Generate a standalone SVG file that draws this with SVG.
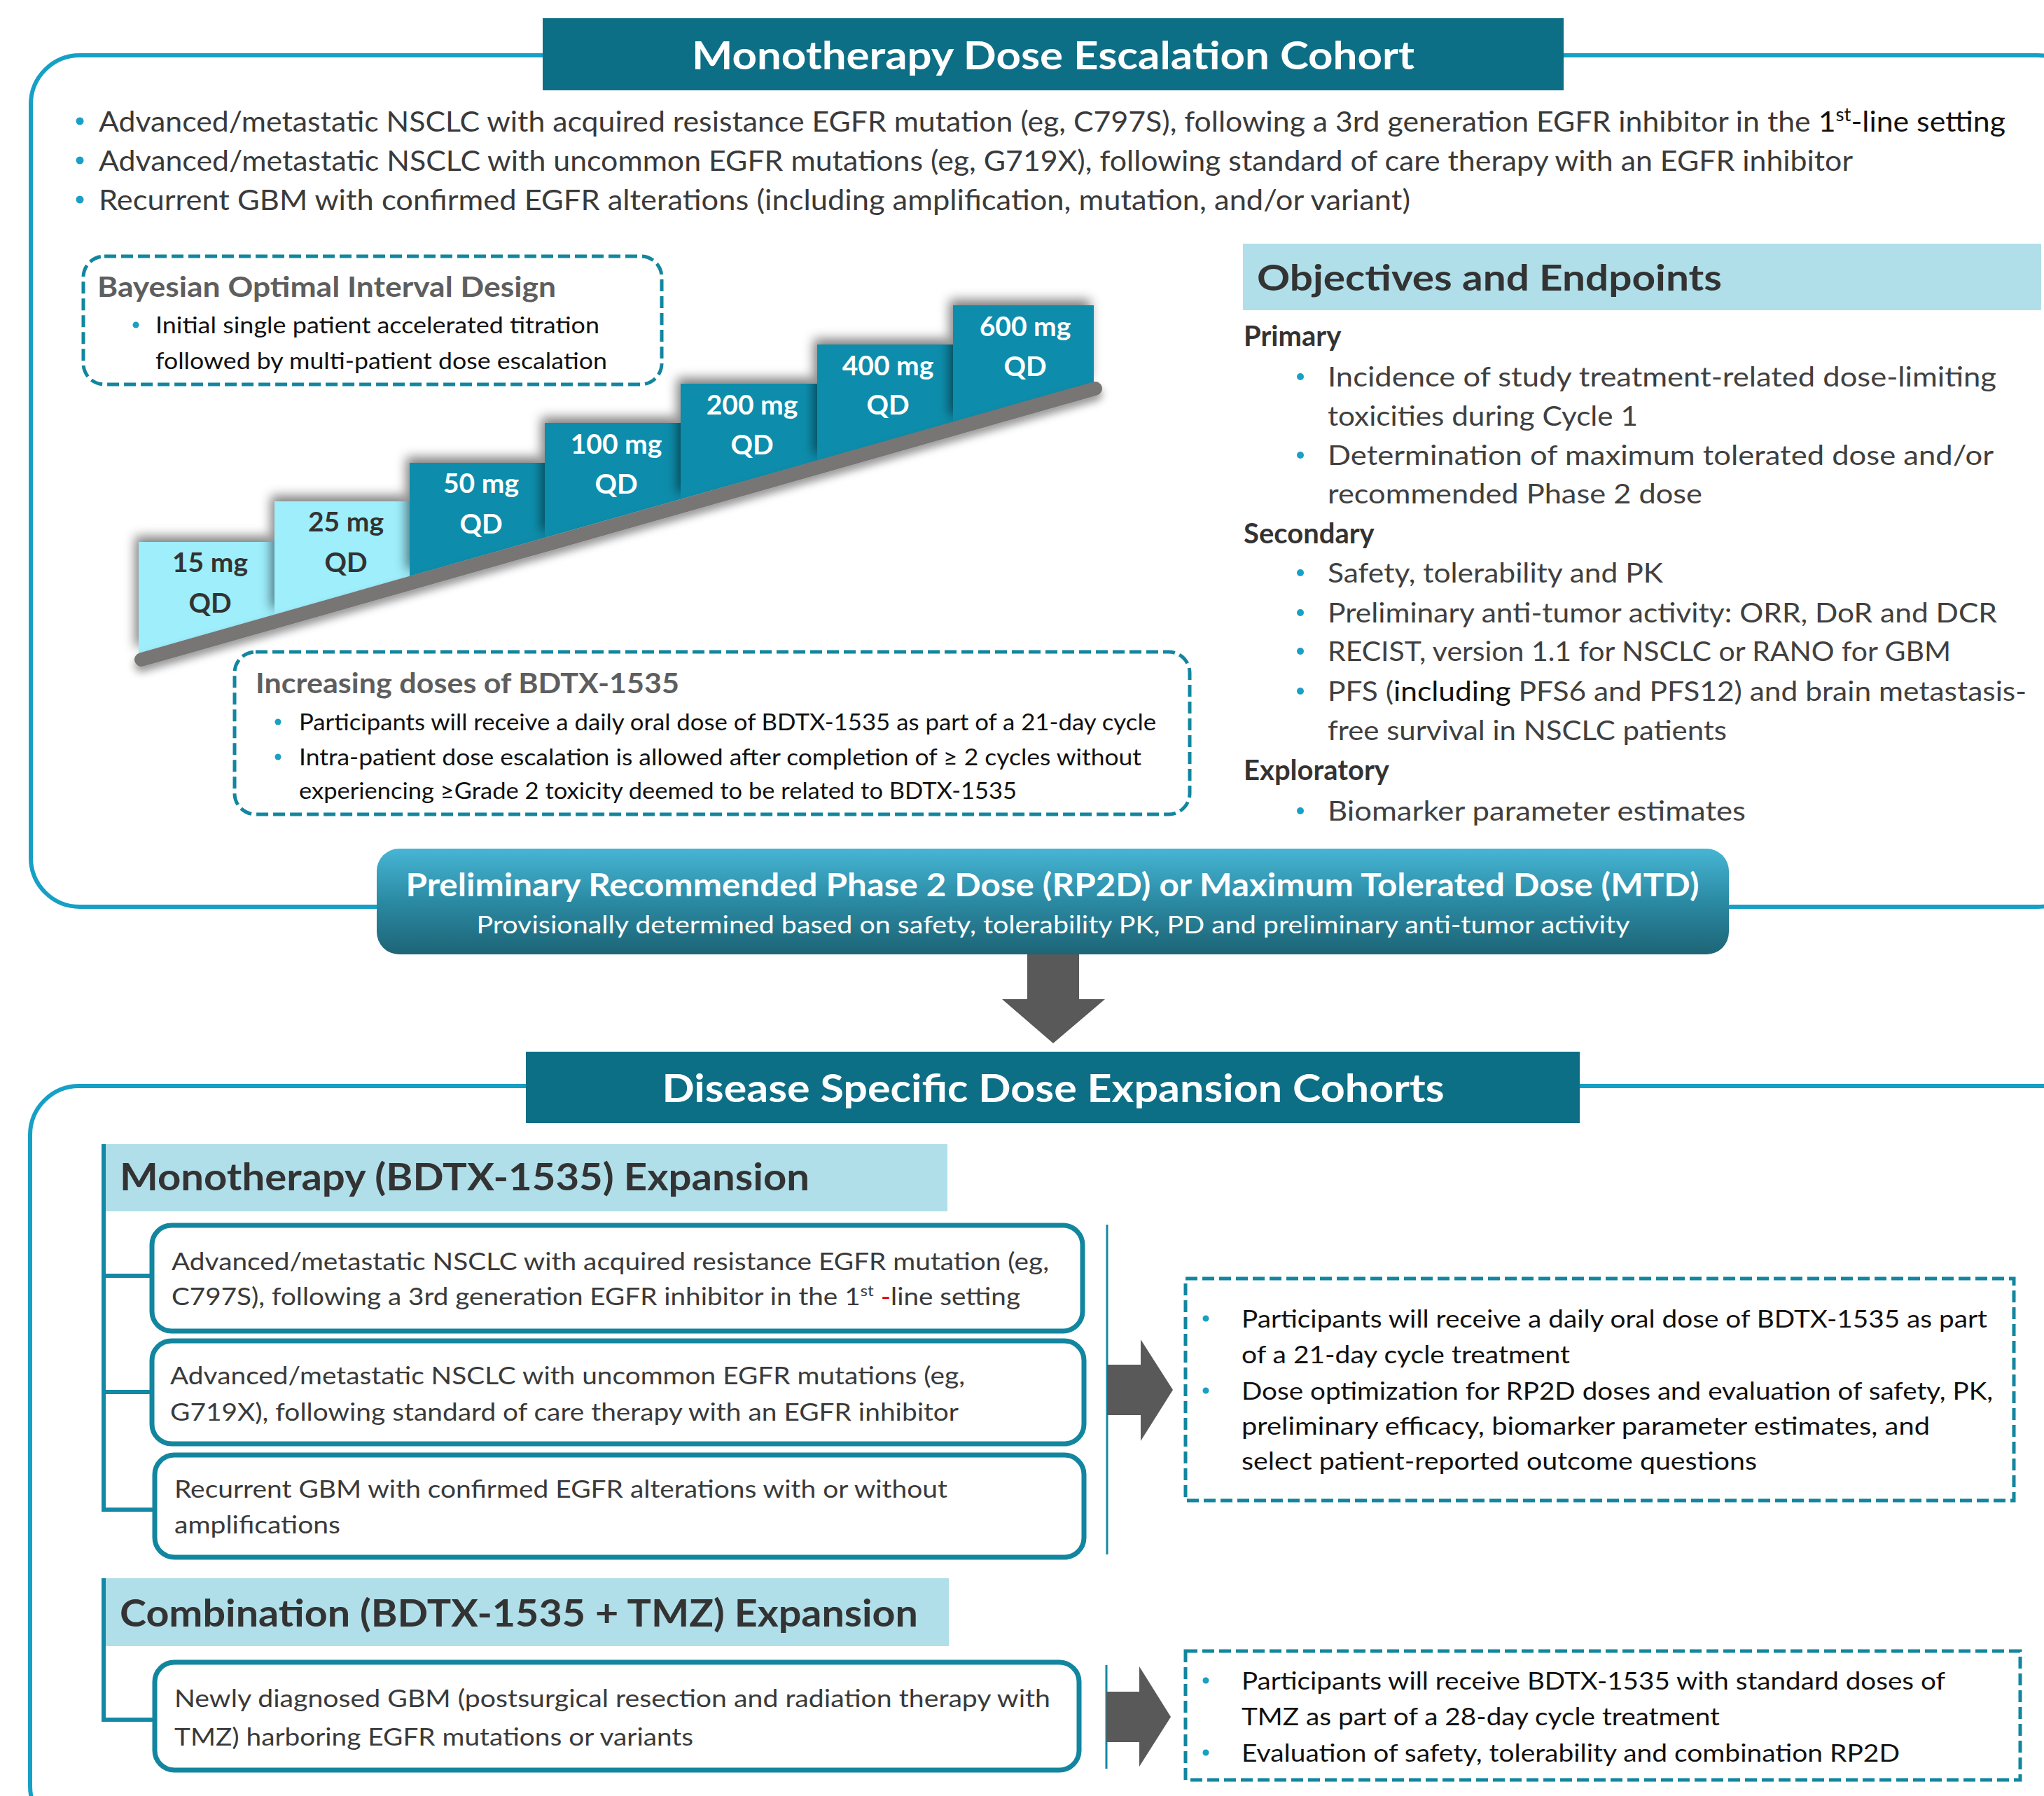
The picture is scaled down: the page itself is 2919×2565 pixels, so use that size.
<svg xmlns="http://www.w3.org/2000/svg" width="2919" height="2565" viewBox="0 0 2919 2565">
<defs>
<style>
text{font-family:Lato,"Liberation Sans",sans-serif;}
.b{font-weight:bold;}
.tt{fill:#ffffff;font-weight:bold;font-size:56px;}
.body{fill:#3a3a3a;font-size:40px;}
.blk{fill:#111111;}
.hdr{fill:#333333;font-weight:bold;font-size:54px;}
.gt{fill:#5e5e5e;font-weight:bold;font-size:40px;}
.step{font-weight:bold;font-size:39px;text-anchor:middle;}
.dk{fill:#333333;}
.wt{fill:#ffffff;}
.dot{fill:#1a9fc6;}
.outer{fill:none;stroke:#16a0c6;stroke-width:6;}
.titlebox{fill:#0d6f85;}
.dash{fill:#ffffff;stroke:#12869f;stroke-width:5;stroke-dasharray:17 7;}
.lightbar{fill:#b0dfea;}
.ebox{fill:#ffffff;stroke:#13869f;stroke-width:7;}
.branch{fill:none;stroke:#1389a6;stroke-width:6;}
.thin{fill:none;stroke:#1389a6;stroke-width:3;}
.arrow{fill:#595959;}
.light{fill:#9eeefc;}
.teal{fill:#118dab;}
.obj{fill:#404040;font-size:39px;}
.objh{fill:#333333;font-weight:bold;font-size:40px;}
.etx{fill:#3a3a3a;font-size:35px;}
.rtx{fill:#111111;font-size:34px;}
</style>
<linearGradient id="rp2d" x1="0" y1="0" x2="0" y2="1">
<stop offset="0" stop-color="#46b5d4"/>
<stop offset="0.5" stop-color="#2b8aa3"/>
<stop offset="1" stop-color="#1d6476"/>
</linearGradient>
<filter id="sh" x="-20%" y="-20%" width="140%" height="140%">
<feGaussianBlur in="SourceAlpha" stdDeviation="8"/>
<feOffset dx="-5" dy="-8" result="o"/>
<feFlood flood-color="#000000" flood-opacity="0.5"/>
<feComposite in2="o" operator="in"/>
<feMerge><feMergeNode/><feMergeNode in="SourceGraphic"/></feMerge>
</filter>
<filter id="barsh" x="-10%" y="-50%" width="120%" height="200%">
<feGaussianBlur in="SourceAlpha" stdDeviation="6"/>
<feOffset dx="0" dy="8" result="o"/>
<feFlood flood-color="#000000" flood-opacity="0.4"/>
<feComposite in2="o" operator="in"/>
<feMerge><feMergeNode/><feMergeNode in="SourceGraphic"/></feMerge>
</filter>
</defs>
<rect x="0" y="0" width="2919" height="2565" fill="#ffffff"/>

<g id="frame-escalation">
<rect class="outer" x="44" y="79" width="2936" height="1216" rx="70"/>
</g>
<g id="frame-expansion">
<rect class="outer" x="43" y="1551" width="2946" height="1070" rx="70"/>
</g>

<g id="title-escalation">
<rect class="titlebox" x="775" y="26" width="1458" height="103"/>
<text class="tt" x="1504" y="99" text-anchor="middle" textLength="1032" lengthAdjust="spacingAndGlyphs">Monotherapy Dose Escalation Cohort</text>
</g>

<g id="eligibility">
<circle class="dot" cx="114" cy="173" r="5.5"/>
<circle class="dot" cx="114" cy="229" r="5.5"/>
<circle class="dot" cx="114" cy="285" r="5.5"/>
<text class="body" x="141" y="188" textLength="2723" lengthAdjust="spacingAndGlyphs">Advanced/metastatic NSCLC with acquired resistance EGFR mutation (eg, C797S), following a 3rd generation EGFR inhibitor in the <tspan class="blk">1</tspan><tspan class="blk" font-size="26" dy="-15">st</tspan><tspan class="blk" dy="15">-line setting</tspan></text>
<text class="body" x="141" y="244" textLength="2505" lengthAdjust="spacingAndGlyphs">Advanced/metastatic NSCLC with uncommon EGFR mutations (eg, G719X), following standard of care therapy with an EGFR inhibitor</text>
<text class="body" x="141" y="300" textLength="1873" lengthAdjust="spacingAndGlyphs">Recurrent GBM with confirmed EGFR alterations (including amplification, mutation, and/or variant)</text>
</g>

<g id="boin">
<rect class="dash" x="119" y="366" width="826" height="183" rx="30"/>
<text class="gt" x="139" y="424" textLength="655" lengthAdjust="spacingAndGlyphs">Bayesian Optimal Interval Design</text>
<circle class="dot" cx="194" cy="464" r="4.5"/>
<text class="blk" font-size="32" x="222" y="476" textLength="634" lengthAdjust="spacingAndGlyphs">Initial single patient accelerated titration</text>
<text class="blk" font-size="32" x="222" y="527" textLength="645" lengthAdjust="spacingAndGlyphs">followed by multi-patient dose escalation</text>
</g>

<g id="staircase">
<g id="step-15">
<polygon class="light" filter="url(#sh)" points="198,774 392,774 392,878 198,933"/>
<text class="step dk" x="300" y="817">15 mg</text>
<text class="step dk" x="300" y="875">QD</text>
</g>
<g id="step-25">
<polygon class="light" filter="url(#sh)" points="392,716 585,716 585,823 392,878"/>
<text class="step dk" x="494" y="759">25 mg</text>
<text class="step dk" x="494" y="817">QD</text>
</g>
<g id="step-50">
<polygon class="teal" filter="url(#sh)" points="585,661 778,661 778,768 585,823"/>
<text class="step wt" x="687" y="704">50 mg</text>
<text class="step wt" x="687" y="762">QD</text>
</g>
<g id="step-100">
<polygon class="teal" filter="url(#sh)" points="778,604 972,604 972,713 778,768"/>
<text class="step wt" x="880" y="648">100 mg</text>
<text class="step wt" x="880" y="705">QD</text>
</g>
<g id="step-200">
<polygon class="teal" filter="url(#sh)" points="972,548 1167,548 1167,658 972,713"/>
<text class="step wt" x="1074" y="592">200 mg</text>
<text class="step wt" x="1074" y="649">QD</text>
</g>
<g id="step-400">
<polygon class="teal" filter="url(#sh)" points="1167,492 1361,492 1361,603 1167,658"/>
<text class="step wt" x="1268" y="536">400 mg</text>
<text class="step wt" x="1268" y="592">QD</text>
</g>
<g id="step-600">
<polygon class="teal" filter="url(#sh)" points="1361,436 1562,436 1562,546 1361,603"/>
<text class="step wt" x="1464" y="480">600 mg</text>
<text class="step wt" x="1464" y="537">QD</text>
</g>
<line filter="url(#barsh)" x1="202" y1="942" x2="1564" y2="555" stroke="#787474" stroke-width="20" stroke-linecap="round"/>
</g>

<g id="increasing">
<rect class="dash" x="335" y="931" width="1364" height="232" rx="30"/>
<text class="gt" x="365" y="990" textLength="605" lengthAdjust="spacingAndGlyphs">Increasing doses of BDTX-1535</text>
<circle class="dot" cx="397" cy="1031" r="4.5"/>
<circle class="dot" cx="397" cy="1081" r="4.5"/>
<text class="blk" font-size="32" x="427" y="1043" textLength="1224" lengthAdjust="spacingAndGlyphs">Participants will receive a daily oral dose of BDTX-1535 as part of a 21-day cycle</text>
<text class="blk" font-size="32" x="427" y="1093" textLength="1203" lengthAdjust="spacingAndGlyphs">Intra-patient dose escalation is allowed after completion of ≥ 2 cycles without</text>
<text class="blk" font-size="32" x="427" y="1141" textLength="1025" lengthAdjust="spacingAndGlyphs">experiencing ≥Grade 2 toxicity deemed to be related to BDTX-1535</text>
</g>

<g id="objectives">
<rect class="lightbar" x="1775" y="348" width="1140" height="95"/>
<text fill="#333333" class="b" font-size="52" x="1795" y="415" textLength="664" lengthAdjust="spacingAndGlyphs">Objectives and Endpoints</text>
<text class="objh" x="1776" y="494">Primary</text>
<circle class="dot" cx="1857" cy="538" r="5"/>
<text class="obj" x="1896" y="552" textLength="955" lengthAdjust="spacingAndGlyphs">Incidence of study treatment-related dose-limiting</text>
<text class="obj" x="1896" y="608" textLength="443" lengthAdjust="spacingAndGlyphs">toxicities during Cycle 1</text>
<circle class="dot" cx="1857" cy="650" r="5"/>
<text class="obj" x="1896" y="664" textLength="951" lengthAdjust="spacingAndGlyphs">Determination of maximum tolerated dose and/or</text>
<text class="obj" x="1896" y="719" textLength="535" lengthAdjust="spacingAndGlyphs">recommended Phase 2 dose</text>
<text class="objh" x="1776" y="776">Secondary</text>
<circle class="dot" cx="1857" cy="818" r="5"/>
<text class="obj" x="1896" y="832" textLength="479" lengthAdjust="spacingAndGlyphs">Safety, tolerability and PK</text>
<circle class="dot" cx="1857" cy="875" r="5"/>
<text class="obj" x="1896" y="889" textLength="956" lengthAdjust="spacingAndGlyphs">Preliminary anti-tumor activity: ORR, DoR and DCR</text>
<circle class="dot" cx="1857" cy="930" r="5"/>
<text class="obj" x="1896" y="944" textLength="890" lengthAdjust="spacingAndGlyphs">RECIST, version 1.1 for NSCLC or RANO for GBM</text>
<circle class="dot" cx="1857" cy="987" r="5"/>
<text class="obj" x="1896" y="1001" textLength="998" lengthAdjust="spacingAndGlyphs">PFS (<tspan class="blk">including</tspan> PFS6 and PFS12) and brain metastasis-</text>
<text class="obj" x="1896" y="1057" textLength="570" lengthAdjust="spacingAndGlyphs">free survival in NSCLC patients</text>
<text class="objh" x="1776" y="1114">Exploratory</text>
<circle class="dot" cx="1857" cy="1158" r="5"/>
<text class="obj" x="1896" y="1172" textLength="597" lengthAdjust="spacingAndGlyphs">Biomarker parameter estimates</text>
</g>

<g id="connectors">
<polygon class="arrow" points="1467,1363 1541,1363 1541,1427 1578,1427 1504,1490 1431,1427 1467,1427"/>
<polyline class="branch" points="148,1634 148,2159"/>
<line class="branch" x1="145" y1="1822" x2="217" y2="1822"/>
<line class="branch" x1="145" y1="1988" x2="217" y2="1988"/>
<line class="branch" x1="145" y1="2156" x2="221" y2="2156"/>
<polyline class="branch" points="148,2254 148,2459"/>
<line class="branch" x1="145" y1="2456" x2="221" y2="2456"/>
<line class="thin" x1="1581" y1="1749" x2="1581" y2="2220"/>
<line class="thin" x1="1580" y1="2378" x2="1580" y2="2526"/>
<polygon class="arrow" points="1581,1949 1629,1949 1629,1913 1675,1985 1629,2058 1629,2021 1581,2021"/>
<polygon class="arrow" points="1580,2416 1627,2416 1627,2380 1672,2452 1627,2523 1627,2488 1580,2488"/>
</g>

<g id="rp2d-box">
<rect x="538" y="1212" width="1931" height="151" rx="32" fill="url(#rp2d)"/>
<text class="wt b" font-size="45" x="1503" y="1280" text-anchor="middle" textLength="1847" lengthAdjust="spacingAndGlyphs">Preliminary Recommended Phase 2 Dose (RP2D) or Maximum Tolerated Dose (MTD)</text>
<text class="wt" font-size="34" x="1504" y="1333" text-anchor="middle" textLength="1647" lengthAdjust="spacingAndGlyphs">Provisionally determined based on safety, tolerability PK, PD and preliminary anti-tumor activity</text>
</g>

<g id="title-expansion">
<rect class="titlebox" x="751" y="1502" width="1505" height="102"/>
<text class="tt" font-size="55" x="1504" y="1574" text-anchor="middle" textLength="1117" lengthAdjust="spacingAndGlyphs">Disease Specific Dose Expansion Cohorts</text>
</g>

<g id="mono-header">
<rect class="lightbar" x="151" y="1634" width="1202" height="96"/>
<text class="hdr" x="171" y="1700" textLength="985" lengthAdjust="spacingAndGlyphs">Monotherapy (BDTX-1535) Expansion</text>
</g>
<g id="mono-nsclc-c797s">
<rect class="ebox" x="217" y="1750" width="1329" height="151" rx="28"/>
<text class="etx" x="245" y="1814" textLength="1253" lengthAdjust="spacingAndGlyphs">Advanced/metastatic NSCLC with acquired resistance EGFR mutation (eg,</text>
<text class="etx" x="245" y="1864" textLength="1212" lengthAdjust="spacingAndGlyphs">C797S), following a 3rd generation EGFR inhibitor in the 1<tspan font-size="22" dy="-13">st</tspan><tspan dy="13"> </tspan><tspan fill="#e00000">-</tspan>line setting</text>
</g>
<g id="mono-nsclc-g719x">
<rect class="ebox" x="217" y="1915" width="1331" height="147" rx="28"/>
<text class="etx" x="243" y="1977" textLength="1135" lengthAdjust="spacingAndGlyphs">Advanced/metastatic NSCLC with uncommon EGFR mutations (eg,</text>
<text class="etx" x="243" y="2029" textLength="1126" lengthAdjust="spacingAndGlyphs">G719X), following standard of care therapy with an EGFR inhibitor</text>
</g>
<g id="mono-gbm">
<rect class="ebox" x="221" y="2078" width="1327" height="146" rx="28"/>
<text class="etx" x="249" y="2139" textLength="1104" lengthAdjust="spacingAndGlyphs">Recurrent GBM with confirmed EGFR alterations with or without</text>
<text class="etx" x="249" y="2190" textLength="237" lengthAdjust="spacingAndGlyphs">amplifications</text>
</g>
<g id="mono-details">
<rect class="dash" stroke-width="4" x="1693" y="1826" width="1183" height="317"/>
<circle class="dot" cx="1722" cy="1883" r="4.5"/>
<circle class="dot" cx="1722" cy="1986" r="4.5"/>
<text class="rtx" x="1773" y="1896" textLength="1065" lengthAdjust="spacingAndGlyphs">Participants will receive a daily oral dose of BDTX-1535 as part</text>
<text class="rtx" x="1773" y="1947" textLength="469" lengthAdjust="spacingAndGlyphs">of a 21-day cycle treatment</text>
<text class="rtx" x="1773" y="1999" textLength="1073" lengthAdjust="spacingAndGlyphs">Dose optimization for RP2D doses and evaluation of safety, PK,</text>
<text class="rtx" x="1773" y="2049" textLength="983" lengthAdjust="spacingAndGlyphs">preliminary efficacy, biomarker parameter estimates, and</text>
<text class="rtx" x="1773" y="2099" textLength="736" lengthAdjust="spacingAndGlyphs">select patient-reported outcome questions</text>
</g>

<g id="combo-header">
<rect class="lightbar" x="151" y="2254" width="1204" height="97"/>
<text class="hdr" x="171" y="2323" textLength="1140" lengthAdjust="spacingAndGlyphs">Combination (BDTX-1535 + TMZ) Expansion</text>
</g>
<g id="combo-gbm">
<rect class="ebox" x="221" y="2374" width="1320" height="154" rx="28"/>
<text class="etx blk" x="249" y="2438" textLength="1251" lengthAdjust="spacingAndGlyphs">Newly diagnosed GBM (postsurgical resection and radiation therapy with</text>
<text class="etx blk" x="249" y="2493" textLength="741" lengthAdjust="spacingAndGlyphs">TMZ) harboring EGFR mutations or variants</text>
</g>
<g id="combo-details">
<rect class="dash" stroke-width="4" x="1693" y="2358" width="1192" height="184"/>
<circle class="dot" cx="1722" cy="2400" r="4.5"/>
<circle class="dot" cx="1722" cy="2503" r="4.5"/>
<text class="rtx" x="1773" y="2413" textLength="1005" lengthAdjust="spacingAndGlyphs">Participants will receive BDTX-1535 with standard doses of</text>
<text class="rtx" x="1773" y="2464" textLength="683" lengthAdjust="spacingAndGlyphs">TMZ as part of a 28-day cycle treatment</text>
<text class="rtx" x="1773" y="2516" textLength="940" lengthAdjust="spacingAndGlyphs">Evaluation of safety, tolerability and combination RP2D</text>
</g>
</svg>
